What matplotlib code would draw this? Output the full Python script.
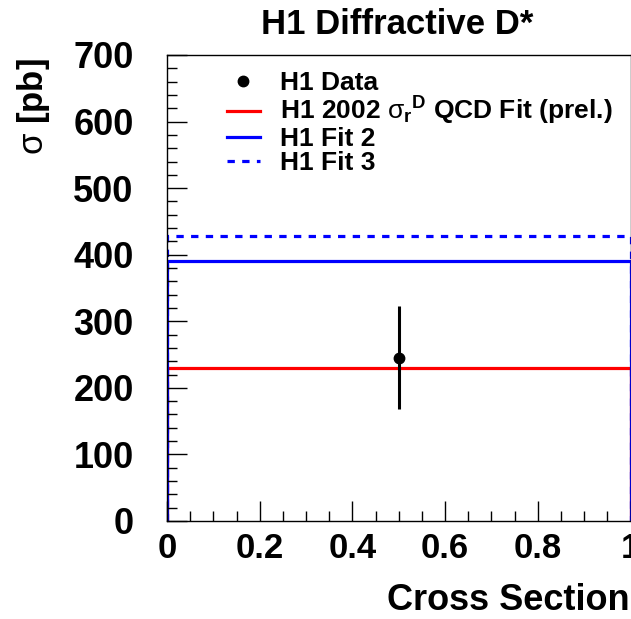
#!/usr/bin/env python3
import numpy as np
import matplotlib
matplotlib.use('Agg')
import matplotlib.pyplot as plt
from matplotlib.ticker import MultipleLocator
from matplotlib.lines import Line2D

# values
bin_edges = [0.0, 1.0]
fit_2002 = [229.5]
fit_2 = [391.0]
fit_3 = [428.5]
data_x = [0.5]
data_y = [245.5]
data_err = [77.0]

labels = ['H1 Data',
	r'H1 2002 $\mathrm{\sigma}_{\mathbf{r}}{}^{\mathbf{D}}$ QCD Fit (prel.)',
	'H1 Fit 2',
	'H1 Fit 3']


def main():
	plt.rcParams['font.family'] = ['Liberation Sans', 'DejaVu Sans']
	plt.rcParams['font.weight'] = 'bold'
	plt.rcParams['mathtext.fontset'] = 'custom'
	plt.rcParams['mathtext.rm'] = 'Liberation Sans:weight=normal'
	plt.rcParams['mathtext.bf'] = 'Liberation Sans:bold'
	plt.rcParams['mathtext.it'] = 'Liberation Sans:italic'

	W, H = 631, 619
	fig = plt.figure(figsize=(W / 100, H / 100), dpi=100)
	ax = fig.add_axes([167 / W, 1 - 521 / H, 463.5 / W, 466 / H])

	lw = 2.3
	ax.stairs(fit_2002, bin_edges, color='#ff0000', lw=lw, baseline=0)
	ax.stairs(fit_2, bin_edges, color='#0000ff', lw=lw, baseline=0)
	ax.stairs(fit_3, bin_edges, color='#0000ff', lw=lw, baseline=0, linestyle=(0, (2.3, 2.3)))
	ax.errorbar(data_x, data_y, yerr=data_err, fmt='o', color='black', ms=7.5, elinewidth=2.2, capsize=0, zorder=5)

	ax.set_xlim(0, 1)
	ax.set_ylim(0, 700)
	ax.xaxis.set_major_locator(MultipleLocator(0.2))
	ax.xaxis.set_minor_locator(MultipleLocator(0.05))
	ax.yaxis.set_major_locator(MultipleLocator(100))
	ax.yaxis.set_minor_locator(MultipleLocator(20))
	ax.xaxis.set_major_formatter(plt.FuncFormatter(lambda v, p: '%g' % round(v, 2)))
	ax.tick_params(which='both', direction='in', top=False, right=False, width=1)
	ax.tick_params(which='major', length=14.5)
	ax.tick_params(which='minor', length=7.2)
	ax.tick_params(axis='y', which='major', pad=24, labelsize=26)
	ax.tick_params(axis='x', which='major', pad=8, labelsize=25)
	for s in ax.spines.values():
		s.set_linewidth(1)
	for t in ax.get_xticklabels() + ax.get_yticklabels():
		t.set_fontweight('bold')

	handles = [
		Line2D([], [], marker='o', ls='none', color='black', ms=7.5),
		Line2D([], [], color='#ff0000', lw=lw),
		Line2D([], [], color='#0000ff', lw=lw),
		Line2D([], [], color='#0000ff', lw=lw, ls=(0, (2.3, 2.3))),
	]
	fig.legend(handles, labels, loc='upper left', bbox_to_anchor=(227 / W, 1 - 71 / H),
		frameon=False, handlelength=1.25, handletextpad=0.75,
		labelspacing=0.0, borderpad=0, borderaxespad=0, prop={'weight': 'bold', 'size': 19})

	fig.text(397 / W, 1 - 24 / H, 'H1 Diffractive D*', ha='center', va='center', fontsize=25, fontweight='bold')
	fig.text(34 / W, 1 - 58 / H, r'$\mathrm{\sigma}$ [pb]', rotation=90, ha='center', va='top', fontsize=25, fontweight='bold')
	fig.text(630 / W, 1 - 601 / H, 'Cross Section', ha='right', va='center', fontsize=26, fontweight='bold')

	fig.savefig('out.png', dpi=100)


if __name__ == '__main__':
	main()
